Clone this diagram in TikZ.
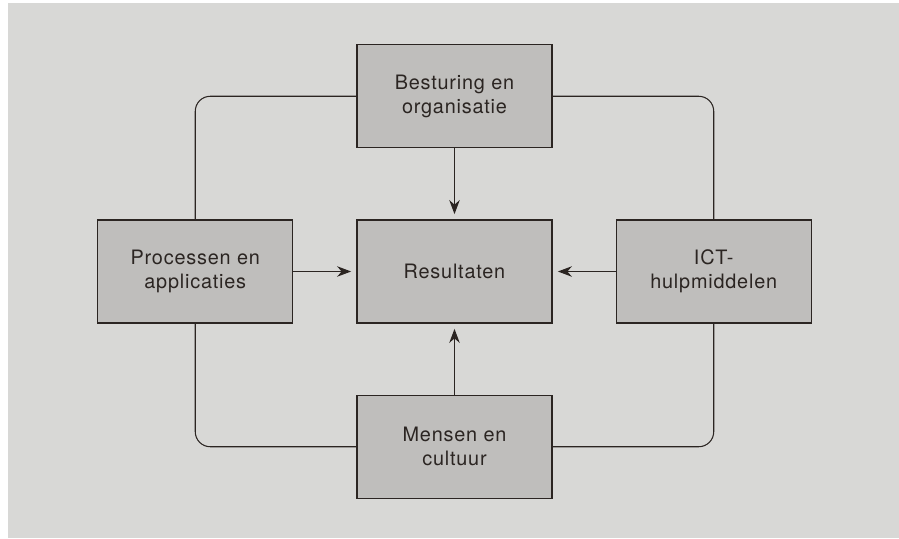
\documentclass[tikz,border=0pt]{standalone}
\usepackage{fontspec}
\setmainfont[LetterSpace=4]{TeX Gyre Heros}
\usetikzlibrary{positioning,arrows.meta}
\definecolor{achter}{HTML}{D8D8D6}
\definecolor{vak}{HTML}{BFBEBC}
\definecolor{lijn}{HTML}{2B2522}
\tikzset{
  blok/.style={draw=lijn, line width=0.7pt, fill=vak, text=lijn,
    minimum width=3.9cm, minimum height=2.06cm, align=center,
    font=\fontsize{11.3}{13.6}\selectfont},
  pijl/.style={-{Stealth[length=8pt,width=6pt]}, draw=lijn, line width=0.6pt, shorten >=3pt},
  lus/.style={draw=lijn, line width=0.6pt, rounded corners=0.3cm}
}
\begin{document}
\begin{tikzpicture}[node distance=1.42cm and 1.26cm]
    \fill[white] (-9.09,-5.33) rectangle (8.89,5.43);
    \useasboundingbox (-9.09,-5.33) rectangle (8.89,5.43);
    \fill[achter] (-8.93,-5.33) rectangle (8.89,5.37);
    \node[blok] (res) {Resultaten};
    \node[blok] (bes) [above=of res] {Besturing en\\organisatie};
    \node[blok] (men) [below=of res] {Mensen en\\cultuur};
    \node[blok] (pro) [left=of res] {Processen en\\applicaties};
    \node[blok] (ict) [right=of res] {ICT-\\hulpmiddelen};
    \draw[pijl] (bes) -- (res);
    \draw[pijl] (men) -- (res);
    \draw[pijl] (pro) -- (res);
    \draw[pijl] (ict) -- (res);
    \draw[lus] (bes.west) -| (pro.north);
    \draw[lus] (pro.south) |- (men.west);
    \draw[lus] (men.east) -| (ict.south);
    \draw[lus] (ict.north) |- (bes.east);
  \end{tikzpicture}
\end{document}
